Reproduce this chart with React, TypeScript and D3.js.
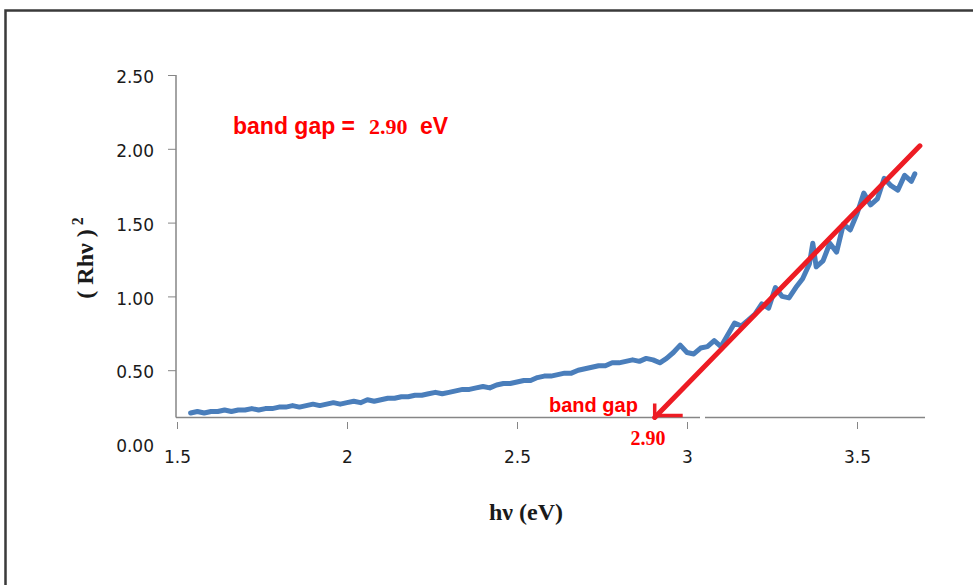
import { useEffect, useRef } from 'react';
import * as d3 from 'd3';

// photon energy (eV) and (Rhv)^2
const hv = [
  1.54, 1.56, 1.58, 1.60, 1.62, 1.64, 1.66, 1.68, 1.70, 1.72, 1.74, 1.76, 1.78, 1.80,
  1.82, 1.84, 1.86, 1.88, 1.90, 1.92, 1.94, 1.96, 1.98, 2.00, 2.02, 2.04, 2.06, 2.08,
  2.10, 2.12, 2.14, 2.16, 2.18, 2.20, 2.22, 2.24, 2.26, 2.28, 2.30, 2.32, 2.34, 2.36,
  2.38, 2.40, 2.42, 2.44, 2.46, 2.48, 2.50, 2.52, 2.54, 2.56, 2.58, 2.60, 2.62, 2.64,
  2.66, 2.68, 2.70, 2.72, 2.74, 2.76, 2.78, 2.80, 2.82, 2.84, 2.86, 2.88, 2.90, 2.92,
  2.94, 2.96, 2.98, 3.00, 3.02, 3.04, 3.06, 3.08, 3.10, 3.12, 3.14, 3.16, 3.18, 3.20,
  3.22, 3.24, 3.26, 3.28, 3.30, 3.32, 3.34, 3.36, 3.37, 3.38, 3.40, 3.42, 3.44, 3.46,
  3.48, 3.50, 3.52, 3.54, 3.56, 3.58, 3.60, 3.62, 3.64, 3.66, 3.67,
];
const rhv2 = [
  0.21, 0.22, 0.21, 0.22, 0.22, 0.23, 0.22, 0.23, 0.23, 0.24, 0.23, 0.24, 0.24, 0.25,
  0.25, 0.26, 0.25, 0.26, 0.27, 0.26, 0.27, 0.28, 0.27, 0.28, 0.29, 0.28, 0.30, 0.29,
  0.30, 0.31, 0.31, 0.32, 0.32, 0.33, 0.33, 0.34, 0.35, 0.34, 0.35, 0.36, 0.37, 0.37,
  0.38, 0.39, 0.38, 0.40, 0.41, 0.41, 0.42, 0.43, 0.43, 0.45, 0.46, 0.46, 0.47, 0.48,
  0.48, 0.50, 0.51, 0.52, 0.53, 0.53, 0.55, 0.55, 0.56, 0.57, 0.56, 0.58, 0.57, 0.55,
  0.58, 0.62, 0.67, 0.62, 0.61, 0.65, 0.66, 0.70, 0.66, 0.74, 0.82, 0.80, 0.84, 0.88,
  0.95, 0.92, 1.06, 1.00, 0.99, 1.06, 1.12, 1.22, 1.36, 1.20, 1.24, 1.36, 1.30, 1.49,
  1.45, 1.56, 1.70, 1.62, 1.66, 1.80, 1.75, 1.72, 1.82, 1.78, 1.83,
];

// linear fit (Tauc extrapolation)
const fitX = [2.905, 3.685];
const fitY = [0.18, 2.02];

const xTicks = [1.5, 2, 2.5, 3, 3.5];
const yTicks = [0.5, 1, 1.5, 2, 2.5];
const axisFloor = 0.18;
const xMax = 3.7;
const bandGap = '2.90';

const App = () => {
  const ref = useRef<SVGSVGElement | null>(null);

  useEffect(() => {
    if (!ref.current) return;
    const svg = d3.select(ref.current);
    svg.selectAll('*').remove();

    const x = d3.scaleLinear().domain([1.5, 3.5]).range([177, 857]);
    const y = d3.scaleLinear().domain([0, 2.5]).range([444, 75]);
    const axisCol = '#868686';
    const numFont = '"DejaVu Sans", Verdana, sans-serif';

    // outer frame
    svg.append('rect')
      .attr('x', 5.5).attr('y', 10.5)
      .attr('width', 1000).attr('height', 700)
      .attr('fill', 'none')
      .attr('stroke', '#3a3a3a')
      .attr('stroke-width', 2.5);

    // y axis
    const yAxis = svg.append('g')
      .attr('transform', 'translate(176,0)')
      .call(d3.axisLeft(y).tickValues(yTicks).tickFormat(d3.format('.2f')).tickSize(8).tickPadding(14));
    yAxis.select('.domain').remove();
    yAxis.selectAll('line').attr('stroke', axisCol);
    yAxis.selectAll('text')
      .attr('dy', '0.45em')
      .style('font-family', numFont)
      .style('font-size', '17px')
      .style('fill', '#1a1a1a');
    svg.append('line')
      .attr('x1', 176).attr('x2', 176)
      .attr('y1', y(2.5)).attr('y2', y(axisFloor))
      .attr('stroke', axisCol).attr('stroke-width', 1.5);
    svg.append('text')
      .attr('x', 154).attr('y', y(0))
      .attr('dy', '0.45em')
      .attr('text-anchor', 'end')
      .style('font-family', numFont)
      .style('font-size', '17px')
      .style('fill', '#1a1a1a')
      .text('0.00');

    // x axis line (with the small break near 3)
    const gapA = 700, gapB = 705;
    svg.append('line')
      .attr('x1', 176).attr('x2', gapA)
      .attr('y1', y(axisFloor)).attr('y2', y(axisFloor))
      .attr('stroke', axisCol).attr('stroke-width', 1.5);
    svg.append('line')
      .attr('x1', gapB).attr('x2', x(xMax))
      .attr('y1', y(axisFloor)).attr('y2', y(axisFloor))
      .attr('stroke', axisCol).attr('stroke-width', 1.5);

    const xAxis = svg.append('g')
      .attr('transform', 'translate(0,422)')
      .call(d3.axisBottom(x).tickValues(xTicks).tickFormat(d3.format('')).tickSize(7));
    xAxis.select('.domain').remove();
    xAxis.selectAll('line').attr('stroke', axisCol);
    xAxis.selectAll('text')
      .attr('y', 29)
      .style('font-family', numFont)
      .style('font-size', '17px')
      .style('fill', '#1a1a1a');

    // data curve
    const pts = hv.map((v, i) => [v, rhv2[i]] as [number, number]);
    svg.append('path')
      .datum(pts)
      .attr('d', d3.line<[number, number]>().x(d => x(d[0])).y(d => y(d[1])))
      .attr('fill', 'none')
      .attr('stroke', '#4a7ebb')
      .attr('stroke-width', 5)
      .attr('stroke-linejoin', 'round')
      .attr('stroke-linecap', 'round');

    // fit line with arrow
    const fit = fitX.map((v, i) => [v, fitY[i]] as [number, number]);
    svg.append('path')
      .datum(fit)
      .attr('d', d3.line<[number, number]>().x(d => x(d[0])).y(d => y(d[1])))
      .attr('fill', 'none')
      .attr('stroke', '#ed1c24')
      .attr('stroke-width', 5)
      .attr('stroke-linecap', 'round');
    const tipX = x(fitX[0]);
    const tipY = y(fitY[0]) - 2;
    svg.append('path')
      .attr('d', `M${tipX},${tipY - 12}L${tipX},${tipY}L${tipX + 28},${tipY}`)
      .attr('fill', 'none')
      .attr('stroke', '#ed1c24')
      .attr('stroke-width', 3.5);

    // annotations
    const sansBold = '"Liberation Sans", Arial, sans-serif';
    const serifBold = '"Liberation Serif", "Times New Roman", serif';
    svg.append('text')
      .attr('x', 233).attr('y', 134)
      .style('font-family', sansBold).style('font-weight', 'bold')
      .style('font-size', '23px').style('fill', '#ff0000')
      .text('band gap =');
    svg.append('text')
      .attr('x', 369).attr('y', 134)
      .style('font-family', serifBold).style('font-weight', 'bold')
      .style('font-size', '22px').style('fill', '#ff0000')
      .text(bandGap);
    svg.append('text')
      .attr('x', 420).attr('y', 134)
      .style('font-family', sansBold).style('font-weight', 'bold')
      .style('font-size', '23px').style('fill', '#ff0000')
      .text('eV');

    svg.append('text')
      .attr('x', 549).attr('y', 412)
      .style('font-family', sansBold).style('font-weight', 'bold')
      .style('font-size', '20px').style('fill', '#ff0000')
      .text('band gap');
    svg.append('text')
      .attr('x', 648).attr('y', 445)
      .attr('text-anchor', 'middle')
      .style('font-family', serifBold).style('font-weight', 'bold')
      .style('font-size', '20px').style('fill', '#ff0000')
      .text(bandGap);

    // axis titles
    svg.append('text')
      .attr('x', 526).attr('y', 520)
      .attr('text-anchor', 'middle')
      .style('font-family', serifBold).style('font-weight', 'bold')
      .style('font-size', '24px').style('fill', '#1a1a1a')
      .text('hν (eV)');

    const yt = svg.append('text')
      .attr('transform', 'translate(93,258) rotate(-90)')
      .attr('text-anchor', 'middle')
      .style('font-family', serifBold).style('font-weight', 'bold')
      .style('font-size', '24px').style('fill', '#1a1a1a');
    yt.append('tspan').text('( Rhν )');
    yt.append('tspan').attr('dy', -10).style('font-size', '16px').text(' 2');
  }, []);

  return (
    <svg
      ref={ref}
      width={973}
      height={585}
      style={{ position: 'absolute', left: 0, top: 0, background: '#fff' }}
    />
  );
};

export default App;
